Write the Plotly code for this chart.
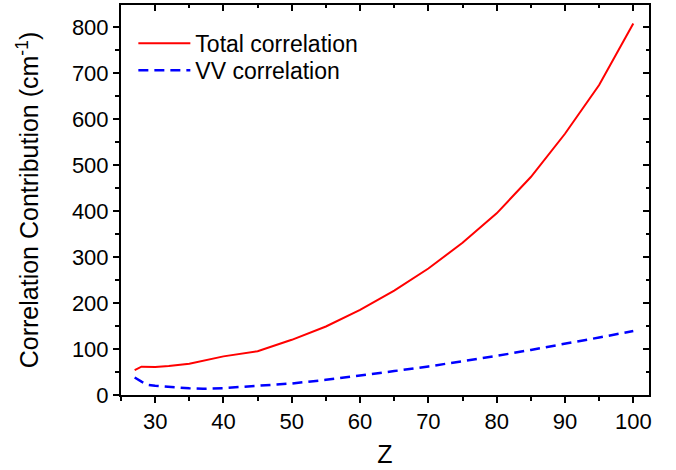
import plotly.graph_objects as go

# Data
Z_total = [27, 28, 30, 32, 35, 37, 40, 45, 50, 55, 60, 65, 70, 75, 80, 85, 90, 95, 100]
total_corr = [54, 61.5, 61, 63, 68, 74, 84, 95, 120, 149, 185, 227, 275, 331, 395, 474, 568, 674, 808]

Z_vv = [27, 28, 29, 30, 35, 37, 40, 45, 50, 55, 60, 65, 70, 75, 80, 85, 90, 95, 100]
vv_corr = [38, 29, 22, 20, 14.5, 13.5, 15, 19.5, 25, 33, 42, 52, 62, 73, 85, 98, 111, 125, 139]

x_ticks = [30, 40, 50, 60, 70, 80, 90, 100]
y_ticks = [0, 100, 200, 300, 400, 500, 600, 700, 800]

x_range = [25, 102.3]
y_range = [0, 848]

FONT = "Arial, Liberation Sans, sans-serif"

fig = go.Figure()
fig.add_trace(go.Scatter(x=Z_total, y=total_corr, mode="lines", name="Total correlation",
                         line=dict(color="#ff0000", width=2), legend="legend"))
fig.add_trace(go.Scatter(x=Z_vv, y=vv_corr, mode="lines", name="VV correlation",
                         line=dict(color="#0000ff", width=2.5, dash="10px,6px"), legend="legend2"))
# invisible trace to create the mirrored top/right axes
fig.add_trace(go.Scatter(x=[Z_total[0]], y=[total_corr[0]], xaxis="x2", yaxis="y2", mode="markers",
                         marker=dict(opacity=0), showlegend=False, hoverinfo="skip"))

axis_common = dict(showgrid=False, zeroline=False, showline=True, linecolor="black", linewidth=2,
                   tickcolor="black", tickwidth=1.5,
                   tickfont=dict(family=FONT, size=22, color="black"))

legend_common = dict(xanchor="left", yanchor="top", font=dict(family=FONT, size=23, color="black"),
                     bgcolor="rgba(0,0,0,0)", itemwidth=52)

fig.update_layout(
    width=676, height=470,
    margin=dict(l=121, r=27, t=5, b=75),
    paper_bgcolor="white", plot_bgcolor="white",
    showlegend=True,
    legend=dict(x=0.0234, y=0.957, **legend_common),
    legend2=dict(x=0.0234, y=0.888, **legend_common),
    xaxis=dict(range=x_range, tickvals=x_ticks, ticks="outside", ticklen=6,
               minor=dict(dtick=5, tick0=25, ticks="outside", ticklen=4, tickwidth=1.5, tickcolor="black"),
               title=dict(text="Z", font=dict(family=FONT, size=25, color="black"), standoff=12),
               **axis_common),
    yaxis=dict(range=y_range, tickvals=y_ticks, ticks="outside", ticklen=6,
               minor=dict(dtick=50, tick0=0, ticks="outside", ticklen=4, tickwidth=1.5, tickcolor="black"),
               title=dict(text="Correlation Contribution (cm<sup>-1</sup>)",
                          font=dict(family=FONT, size=25, color="black"), standoff=26),
               **axis_common),
    xaxis2=dict(range=x_range, overlaying="x", side="top", anchor="y2", tickvals=x_ticks,
                ticks="inside", ticklen=6, showticklabels=False,
                minor=dict(dtick=5, tick0=25, ticks="inside", ticklen=3, tickwidth=1.5, tickcolor="black"),
                **axis_common),
    yaxis2=dict(range=y_range, overlaying="y", side="right", anchor="x2", tickvals=y_ticks,
                ticks="inside", ticklen=6, showticklabels=False,
                minor=dict(dtick=50, tick0=0, ticks="inside", ticklen=3, tickwidth=1.5, tickcolor="black"),
                **axis_common),
)

fig.write_html("out.html")
